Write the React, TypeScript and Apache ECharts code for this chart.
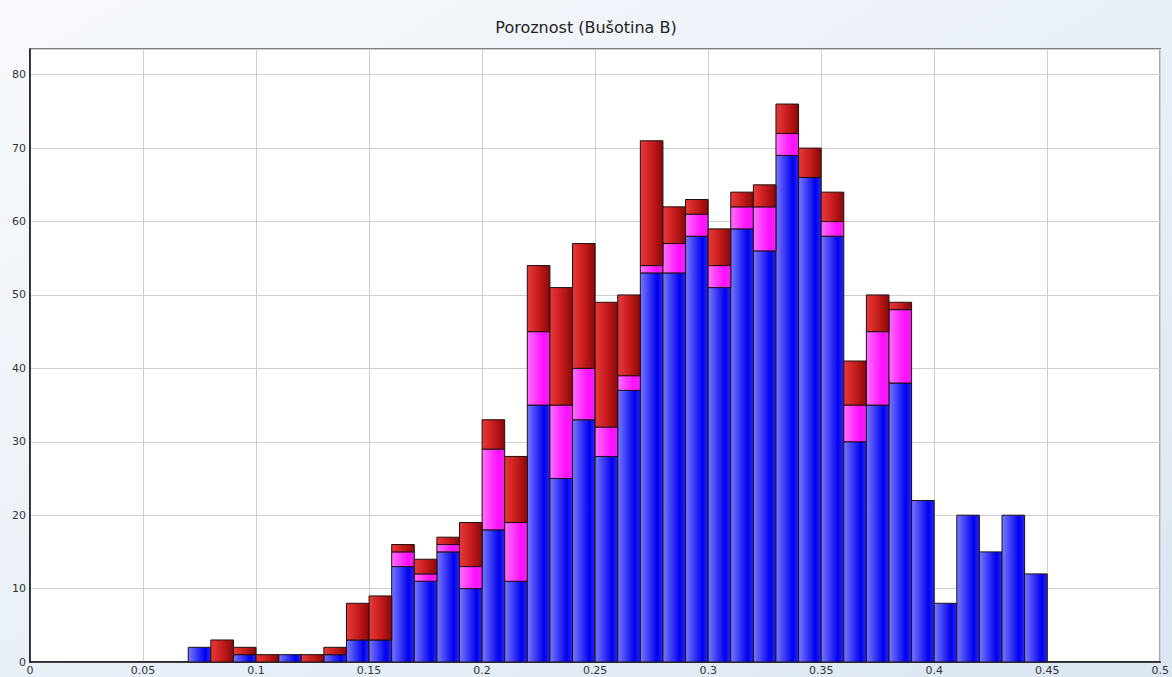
import React, { useEffect, useRef } from "react";
import * as echarts from "echarts";

const binStarts = [
  0.07, 0.08, 0.09, 0.1, 0.11, 0.12, 0.13, 0.14, 0.15, 0.16, 0.17, 0.18, 0.19,
  0.2, 0.21, 0.22, 0.23, 0.24, 0.25, 0.26, 0.27, 0.28, 0.29, 0.3, 0.31, 0.32,
  0.33, 0.34, 0.35, 0.36, 0.37, 0.38, 0.39, 0.4, 0.41, 0.42, 0.43, 0.44,
];
const binWidth = 0.01;
const blueValues = [
  2, 0, 1, 0, 1, 0, 1, 3, 3, 13, 11, 15, 10, 18, 11, 35, 25, 33, 28, 37, 53, 53,
  58, 51, 59, 56, 69, 66, 58, 30, 35, 38, 22, 8, 20, 15, 20, 12,
];
const magentaValues = [
  0, 0, 0, 0, 0, 0, 0, 0, 0, 2, 1, 1, 3, 11, 8, 10, 10, 7, 4, 2, 1, 4, 3, 3, 3,
  6, 3, 0, 2, 5, 10, 10, 0, 0, 0, 0, 0, 0,
];
const redValues = [
  0, 3, 1, 1, 0, 1, 1, 5, 6, 1, 2, 1, 6, 4, 9, 9, 16, 17, 17, 11, 17, 5, 2, 5,
  2, 3, 4, 4, 4, 6, 5, 1, 0, 0, 0, 0, 0, 0,
];
const xTicks = [0, 0.05, 0.1, 0.15, 0.2, 0.25, 0.3, 0.35, 0.4, 0.45, 0.5];
const yTicks = [0, 10, 20, 30, 40, 50, 60, 70, 80];
const titleText = "Poroznost (Bušotina B)";

function grad(stops: [number, string][]) {
  return new echarts.graphic.LinearGradient(
    0,
    0,
    1,
    0,
    stops.map(([offset, color]) => ({ offset, color }))
  );
}

export default function App() {
  const ref = useRef<HTMLDivElement>(null);
  useEffect(() => {
    if (!ref.current) return;
    const chart = echarts.init(ref.current, null, { renderer: "svg" });

    const layers = [
      {
        name: "blue",
        values: blueValues,
        fill: grad([
          [0, "#7878ff"],
          [0.75, "#0000ee"],
          [1, "#2a2af2"],
        ]),
      },
      {
        name: "magenta",
        values: magentaValues,
        fill: grad([
          [0, "#ff70ff"],
          [0.7, "#ff10ff"],
          [1, "#f020f0"],
        ]),
      },
      {
        name: "red",
        values: redValues,
        fill: grad([
          [0, "#e83a3a"],
          [0.5, "#c81c1c"],
          [1, "#8a0808"],
        ]),
      },
    ];

    const base = binStarts.map(() => 0);
    const series = layers.map((layer) => {
      const data = binStarts.map((x, i) => {
        const b = base[i];
        const t = b + layer.values[i];
        base[i] = t;
        return [x, x + binWidth, b, t];
      });
      return {
        type: "custom",
        name: layer.name,
        data: data.filter((d) => d[3] > d[2]),
        encode: { x: [0, 1], y: [2, 3] },
        renderItem: (params: any, api: any) => {
          const p0 = api.coord([api.value(0), api.value(3)]);
          const p1 = api.coord([api.value(1), api.value(2)]);
          return {
            type: "rect",
            shape: {
              x: p0[0],
              y: p0[1],
              width: p1[0] - p0[0],
              height: p1[1] - p0[1],
            },
            style: {
              fill: layer.fill,
              stroke: "#1e1010",
              lineWidth: 1,
            },
          };
        },
      };
    });

    chart.setOption({
      animation: false,
      backgroundColor: new echarts.graphic.LinearGradient(0, 0, 1, 1, [
        { offset: 0, color: "#f8fafd" },
        { offset: 0.5, color: "#eaf0f8" },
        { offset: 1, color: "#dbe6f3" },
      ]),
      title: {
        text: titleText,
        left: "center",
        top: 14,
        textStyle: {
          fontFamily: "DejaVu Sans",
          fontSize: 16,
          fontWeight: "normal",
          color: "#222",
        },
      },
      grid: {
        left: 30,
        right: 11,
        top: 49,
        bottom: 15,
        show: true,
        backgroundColor: "#ffffff",
        borderColor: "#555",
        borderWidth: 1.5,
      },
      xAxis: {
        type: "value",
        min: xTicks[0],
        max: xTicks[xTicks.length - 1],
        interval: 0.05,
        axisLine: { show: true, lineStyle: { color: "#111", width: 1.5 } },
        axisTick: { show: false },
        splitLine: { show: true, lineStyle: { color: "#cfcfcf" } },
        axisLabel: {
          fontFamily: "DejaVu Sans",
          fontSize: 11,
          color: "#333",
          margin: 3,
          showMaxLabel: true,
          formatter: (v: number) => String(parseFloat(v.toFixed(2))),
        },
      },
      yAxis: {
        type: "value",
        min: 0,
        max: 83.5,
        interval: 10,
        axisLine: { show: true, lineStyle: { color: "#111", width: 1.5 } },
        axisTick: { show: false },
        splitLine: { show: true, lineStyle: { color: "#cfcfcf" } },
        axisLabel: {
          fontFamily: "DejaVu Sans",
          fontSize: 11,
          color: "#333",
          margin: 4,
          formatter: (v: number) =>
            yTicks.includes(Math.round(v * 100) / 100) ? String(v) : "",
        },
      },
      series,
    });
    return () => chart.dispose();
  }, []);
  return (
    <div
      ref={ref}
      style={{ position: "fixed", left: 0, top: 0, width: 1172, height: 677 }}
    />
  );
}
